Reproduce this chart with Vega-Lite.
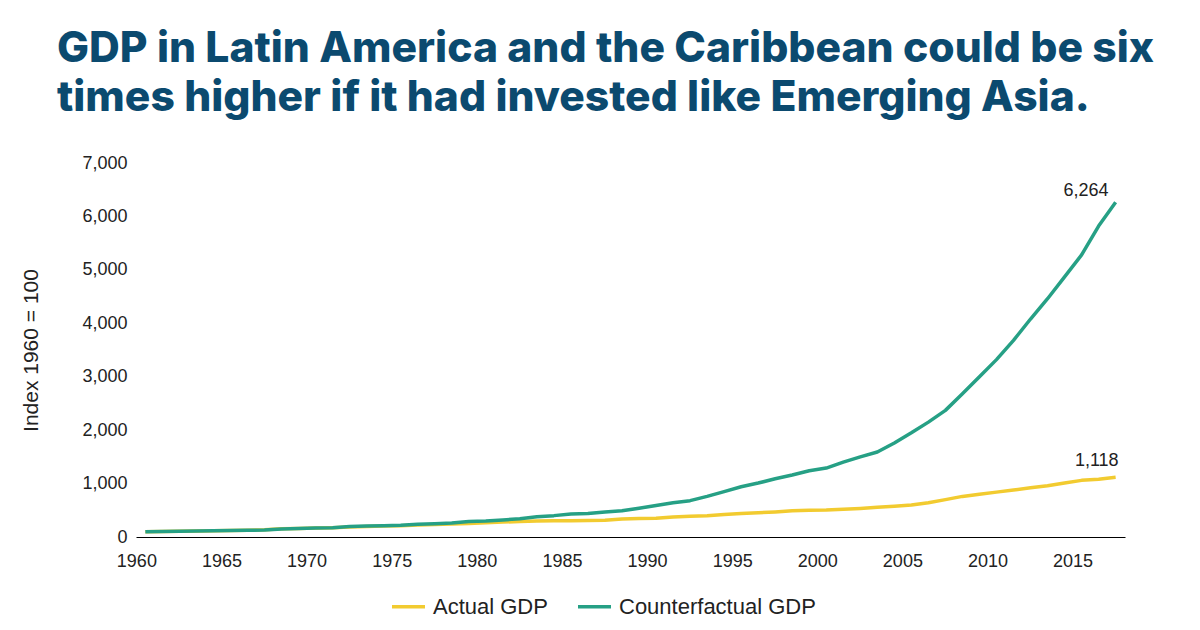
{
  "$schema": "https://vega.github.io/schema/vega-lite/v6.json",
  "width": 989,
  "height": 374,
  "autosize": {"type": "none"},
  "padding": {"left": 136, "top": 163, "right": 75, "bottom": 93},
  "background": "white",
  "config": {"view": {"stroke": null}},
  "title": {
    "text": ["GDP in Latin America and the Caribbean could be six", "times higher if it had invested like Emerging Asia."],
    "anchor": "start",
    "frame": "group",
    "dx": -79,
    "offset": 34,
    "font": "Inter",
    "fontWeight": 800,
    "fontSize": 42.6,
    "lineHeight": 49,
    "color": "#0b4a6f"
  },
  "datasets": {
    "gdp": [
      {"year": 1960, "Actual GDP": 100, "Counterfactual GDP": 100},
      {"year": 1961, "Actual GDP": 105, "Counterfactual GDP": 105},
      {"year": 1962, "Actual GDP": 108, "Counterfactual GDP": 108},
      {"year": 1963, "Actual GDP": 112, "Counterfactual GDP": 112},
      {"year": 1964, "Actual GDP": 118, "Counterfactual GDP": 118},
      {"year": 1965, "Actual GDP": 122, "Counterfactual GDP": 122},
      {"year": 1966, "Actual GDP": 126, "Counterfactual GDP": 126},
      {"year": 1967, "Actual GDP": 135, "Counterfactual GDP": 130},
      {"year": 1968, "Actual GDP": 155, "Counterfactual GDP": 150},
      {"year": 1969, "Actual GDP": 160, "Counterfactual GDP": 160},
      {"year": 1970, "Actual GDP": 170, "Counterfactual GDP": 170},
      {"year": 1971, "Actual GDP": 175, "Counterfactual GDP": 175},
      {"year": 1972, "Actual GDP": 185, "Counterfactual GDP": 195},
      {"year": 1973, "Actual GDP": 195, "Counterfactual GDP": 205},
      {"year": 1974, "Actual GDP": 205, "Counterfactual GDP": 210},
      {"year": 1975, "Actual GDP": 210, "Counterfactual GDP": 220},
      {"year": 1976, "Actual GDP": 225, "Counterfactual GDP": 240},
      {"year": 1977, "Actual GDP": 235, "Counterfactual GDP": 250},
      {"year": 1978, "Actual GDP": 245, "Counterfactual GDP": 260},
      {"year": 1979, "Actual GDP": 255, "Counterfactual GDP": 290},
      {"year": 1980, "Actual GDP": 265, "Counterfactual GDP": 300},
      {"year": 1981, "Actual GDP": 280, "Counterfactual GDP": 320},
      {"year": 1982, "Actual GDP": 290, "Counterfactual GDP": 340},
      {"year": 1983, "Actual GDP": 300, "Counterfactual GDP": 380},
      {"year": 1984, "Actual GDP": 305, "Counterfactual GDP": 400},
      {"year": 1985, "Actual GDP": 305, "Counterfactual GDP": 430},
      {"year": 1986, "Actual GDP": 310, "Counterfactual GDP": 440},
      {"year": 1987, "Actual GDP": 315, "Counterfactual GDP": 470},
      {"year": 1988, "Actual GDP": 335, "Counterfactual GDP": 490},
      {"year": 1989, "Actual GDP": 345, "Counterfactual GDP": 540},
      {"year": 1990, "Actual GDP": 350, "Counterfactual GDP": 590},
      {"year": 1991, "Actual GDP": 375, "Counterfactual GDP": 640},
      {"year": 1992, "Actual GDP": 390, "Counterfactual GDP": 680},
      {"year": 1993, "Actual GDP": 400, "Counterfactual GDP": 760},
      {"year": 1994, "Actual GDP": 420, "Counterfactual GDP": 850},
      {"year": 1995, "Actual GDP": 440, "Counterfactual GDP": 940},
      {"year": 1996, "Actual GDP": 455, "Counterfactual GDP": 1010},
      {"year": 1997, "Actual GDP": 470, "Counterfactual GDP": 1090},
      {"year": 1998, "Actual GDP": 490, "Counterfactual GDP": 1160},
      {"year": 1999, "Actual GDP": 500, "Counterfactual GDP": 1240},
      {"year": 2000, "Actual GDP": 505, "Counterfactual GDP": 1290},
      {"year": 2001, "Actual GDP": 520, "Counterfactual GDP": 1400},
      {"year": 2002, "Actual GDP": 535, "Counterfactual GDP": 1500},
      {"year": 2003, "Actual GDP": 555, "Counterfactual GDP": 1590},
      {"year": 2004, "Actual GDP": 575, "Counterfactual GDP": 1760},
      {"year": 2005, "Actual GDP": 600, "Counterfactual GDP": 1950},
      {"year": 2006, "Actual GDP": 640, "Counterfactual GDP": 2150},
      {"year": 2007, "Actual GDP": 700, "Counterfactual GDP": 2370},
      {"year": 2008, "Actual GDP": 760, "Counterfactual GDP": 2680},
      {"year": 2009, "Actual GDP": 800, "Counterfactual GDP": 3000},
      {"year": 2010, "Actual GDP": 840, "Counterfactual GDP": 3320},
      {"year": 2011, "Actual GDP": 880, "Counterfactual GDP": 3680},
      {"year": 2012, "Actual GDP": 920, "Counterfactual GDP": 4080},
      {"year": 2013, "Actual GDP": 960, "Counterfactual GDP": 4460},
      {"year": 2014, "Actual GDP": 1010, "Counterfactual GDP": 4870},
      {"year": 2015, "Actual GDP": 1060, "Counterfactual GDP": 5280},
      {"year": 2016, "Actual GDP": 1080, "Counterfactual GDP": 5820},
      {"year": 2017, "Actual GDP": 1118, "Counterfactual GDP": 6264}
    ]
  },
  "data": {"name": "gdp"},
  "transform": [
    {"fold": ["Actual GDP", "Counterfactual GDP"], "as": ["series", "value"]}
  ],
  "encoding": {
    "x": {
      "field": "year",
      "type": "quantitative",
      "scale": {"domain": [1959.45, 2017.55], "nice": false, "zero": false},
      "axis": {
        "title": null,
        "values": [1960, 1965, 1970, 1975, 1980, 1985, 1990, 1995, 2000, 2005, 2010, 2015],
        "format": "d",
        "labelOffset": -9,
        "ticks": false,
        "grid": false,
        "domain": true,
        "domainColor": "#000000",
        "domainWidth": 1,
        "labelPadding": 15,
        "labelFont": "Liberation Sans",
        "labelFontSize": 18,
        "labelColor": "#222222",
        "labelFlush": false
      }
    },
    "y": {
      "field": "value",
      "type": "quantitative",
      "scale": {"domain": [0, 7000], "nice": false},
      "axis": {
        "title": "Index 1960 = 100",
        "titleFont": "Liberation Sans",
        "titleFontSize": 21,
        "titleFontWeight": "normal",
        "titleColor": "#222222",
        "titlePadding": 40,
        "values": [0, 1000, 2000, 3000, 4000, 5000, 6000, 7000],
        "format": ",.0f",
        "ticks": false,
        "grid": false,
        "domain": false,
        "labelPadding": 9,
        "labelFont": "Liberation Sans",
        "labelFontSize": 18,
        "labelColor": "#222222"
      }
    }
  },
  "layer": [
    {
      "mark": {"type": "line", "strokeWidth": 3.5, "strokeCap": "butt", "strokeJoin": "round"},
      "encoding": {
        "color": {
          "field": "series",
          "type": "nominal",
          "scale": {"domain": ["Actual GDP", "Counterfactual GDP"], "range": ["#f2cb30", "#26a085"]},
          "legend": {
            "title": null,
            "orient": "none",
            "direction": "horizontal",
            "legendX": 254,
            "legendY": 425,
            "symbolType": "stroke",
            "symbolStrokeWidth": 3.5,
            "symbolSize": 1089,
            "labelFont": "Liberation Sans",
            "labelFontSize": 22,
            "labelColor": "#222222",
            "labelOffset": 6,
            "labelLimit": 400,
            "columnPadding": 23
          }
        }
      }
    },
    {
      "transform": [{"filter": "datum.year == 2017 && datum.series == 'Counterfactual GDP'"}],
      "mark": {"type": "text", "align": "right", "baseline": "alphabetic", "dx": -7, "dy": -6, "font": "Liberation Sans", "fontSize": 18, "color": "#222222"},
      "encoding": {"text": {"field": "value", "type": "quantitative", "format": ","}}
    },
    {
      "transform": [{"filter": "datum.year == 2017 && datum.series == 'Actual GDP'"}],
      "mark": {"type": "text", "align": "right", "baseline": "alphabetic", "dx": 3, "dy": -11, "font": "Liberation Sans", "fontSize": 18, "color": "#222222"},
      "encoding": {"text": {"field": "value", "type": "quantitative", "format": ","}}
    }
  ]
}
